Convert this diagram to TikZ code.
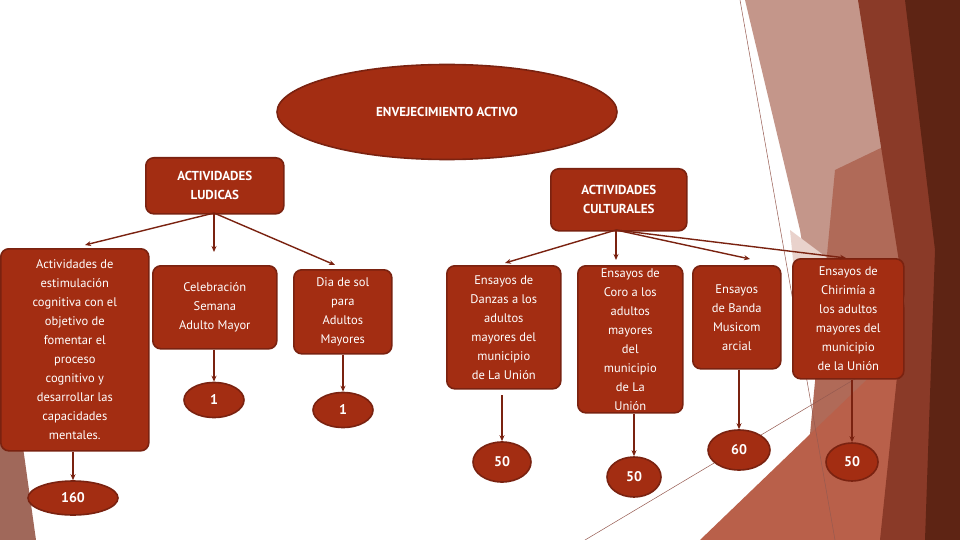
\documentclass[tikz,border=0pt]{standalone}
\usepackage{fontspec}
\setmainfont{PT Sans}
\usetikzlibrary{shapes.geometric,arrows.meta}
\definecolor{rojo}{HTML}{A32D12}
\definecolor{borde}{HTML}{7A2210}
\begin{document}
\begin{tikzpicture}[x=1pt,y=-1pt,
  box/.style={draw=borde,line width=1.6pt,fill=rojo,rounded corners=8pt,text=white,align=center,inner sep=2pt,font=\fontsize{12.5}{19}\selectfont,anchor=north west},
  tit/.style={box,font=\bfseries\fontsize{13}{19}\selectfont},
  val/.style={ellipse,draw=borde,line width=1.6pt,fill=rojo,text=white,font=\bfseries\fontsize{14}{16}\selectfont,inner sep=0pt},
  arr/.style={draw=borde,line width=1.4pt,-{Stealth[length=6pt,width=5pt]}}]
\useasboundingbox (0,0) rectangle (960,540);
\fill[white] (0,0) rectangle (960,540);
% background decoration
\fill[color={rgb,255:red,196;green,150;blue,138}] (745,0)--(960,0)--(960,540)--(850,540)--(800,230)--cycle;
\fill[color={rgb,255:red,233;green,210;blue,204}] (790,230)--(830,260)--(850,420)--(800,330)--cycle;
\fill[color={rgb,255:red,176;green,106;blue,88}] (835,170)--(960,110)--(960,540)--(800,540)--cycle;
\fill[color={rgb,255:red,185;green,96;blue,74}] (700,540)--(960,290)--(960,540)--cycle;
\fill[color={rgb,255:red,138;green,58;blue,40}] (858,0)--(960,0)--(960,540)--(880,540)--(905,300)--cycle;
\fill[color={rgb,255:red,94;green,36;blue,20}] (905,0)--(960,0)--(960,540)--(925,540)--(935,250)--cycle;
\draw[color={rgb,255:red,150;green,90;blue,80},line width=0.5pt] (740,0)--(835,540);
\draw[color={rgb,255:red,150;green,90;blue,80},line width=0.5pt] (585,540)--(870,370);
\fill[color={rgb,255:red,160;green,104;blue,90}] (0,440)--(22,440)--(36,540)--(0,540)--cycle;
% nodes
\node[ellipse,draw=borde,line width=1.6pt,fill=rojo,text=white,font=\bfseries\fontsize{13}{16}\selectfont,minimum width=340,minimum height=95] (root) at (447,112) {ENVEJECIMIENTO ACTIVO};
\node[tit,minimum width=138,minimum height=56] (lud) at (145,157) {ACTIVIDADES\\LUDICAS};
\node[tit,minimum width=136,minimum height=62] (cul) at (550,168) {ACTIVIDADES\\CULTURALES};
\node[box,minimum width=148,minimum height=202] (est) at (0,248) {Actividades de\\estimulación\\cognitiva con el\\objetivo de\\fomentar el\\proceso\\cognitivo y\\desarrollar las\\capacidades\\mentales.};
\node[box,minimum width=124,minimum height=83] (cel) at (152,265) {Celebración\\Semana\\Adulto Mayor};
\node[box,minimum width=98,minimum height=84] (dia) at (293,269) {Dia de sol\\para\\Adultos\\Mayores};
\node[box,minimum width=114,minimum height=123] (dan) at (446,265) {Ensayos de\\Danzas a los\\adultos\\mayores del\\municipio\\de La Unión};
\node[box,minimum width=105,minimum height=147] (cor) at (577,265) {Ensayos de\\Coro a los\\adultos\\mayores\\del\\municipio\\de La\\Unión};
\node[box,minimum width=88,minimum height=103] (ban) at (692,265) {Ensayos\\de Banda\\Musicom\\arcial};
\node[box,minimum width=111,minimum height=120] (chi) at (792,258) {Ensayos de\\Chirimía a\\los adultos\\mayores del\\municipio\\de la Unión};
\node[val,minimum width=90,minimum height=34] (v160) at (73,498) {160};
\node[val,minimum width=60,minimum height=35] (v1a) at (214,400) {1};
\node[val,minimum width=60,minimum height=35] (v1b) at (343,410) {1};
\node[val,minimum width=58,minimum height=40] (v50a) at (502,462) {50};
\node[val,minimum width=54,minimum height=40] (v50b) at (634,477) {50};
\node[val,minimum width=62,minimum height=40] (v60) at (739,450) {60};
\node[val,minimum width=52,minimum height=38] (v50c) at (852,462) {50};
% connectors
\coordinate (lb) at (214,213);
\coordinate (cb) at (616,230);
\draw[arr] (lb) -- (85,245);
\draw[arr] (lb) -- (214,252);
\draw[arr] (lb) -- (335,265);
\draw[arr] (cb) -- (505,263);
\draw[arr] (cb) -- (616,260);
\draw[arr] (cb) -- (750,259);
\draw[arr] (cb) -- (846,258);
\draw[arr] (est.south -| v160) -- (v160.north);
\draw[arr] (cel.south -| v1a) -- (v1a.north);
\draw[arr] (dia.south -| v1b) -- (v1b.north);
\draw[arr] (502,395) -- (v50a.north);
\draw[arr] (cor.south -| v50b) -- (v50b.north);
\draw[arr] (ban.south -| v60) -- (v60.north);
\draw[arr] (chi.south -| v50c) -- (v50c.north);
\end{tikzpicture}
\end{document}
